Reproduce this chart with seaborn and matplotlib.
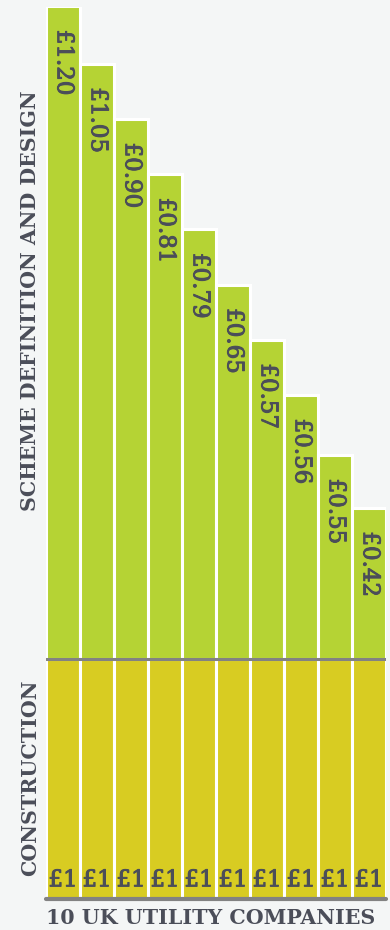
import matplotlib
matplotlib.use("Agg")
import matplotlib.pyplot as plt
import matplotlib.patheffects as pe
import seaborn as sns
import pandas as pd

# ---- data ----
companies = [f"C{i}" for i in range(1, 11)]
scheme_values = [1.20, 1.05, 0.90, 0.81, 0.79, 0.65, 0.57, 0.56, 0.55, 0.42]
scheme_labels = ["£1.20", "£1.05", "£0.90", "£0.81", "£0.79", "£0.65", "£0.57", "£0.56", "£0.55", "£0.42"]
# drawn heights of the green blocks (staircase, in units of the £1 construction block)
scheme_bar_heights = [2.72, 2.48, 2.25, 2.02, 1.79, 1.56, 1.33, 1.10, 0.85, 0.63]
construction_values = [1, 1, 1, 1, 1, 1, 1, 1, 1, 1]
construction_labels = ["£1"] * 10

df = pd.DataFrame({
    "company": companies,
    "construction": construction_values,
    "total": [c + s for c, s in zip(construction_values, scheme_bar_heights)],
})

BG = "#f4f6f6"
GREEN = "#b5d334"
YELLOW = "#d8cc22"
TEXT = "#4b4e59"
LINE = "#828282"

sns.set_theme(style="white")
plt.rcParams["font.family"] = ["DejaVu Serif"]

fig = plt.figure(figsize=(3.9, 9.3), dpi=100, facecolor=BG)
ax = fig.add_axes([46 / 390, 31 / 930, 340 / 390, 892 / 930])
ax.set_facecolor(BG)

sns.barplot(data=df, x="company", y="total", color=GREEN, saturation=1,
            width=1.0, edgecolor="white", linewidth=2.2, ax=ax)
sns.barplot(data=df, x="company", y="construction", color=YELLOW, saturation=1,
            width=1.0, edgecolor="white", linewidth=2.2, ax=ax)

ax.set_xlim(-0.5, 9.5)
ax.set_ylim(0, 892 / 240)
ax.axhline(1, color=LINE, lw=2.2, zorder=5)
ax.axhline(0, color=LINE, lw=3.0, zorder=5, clip_on=False)

thick = [pe.withStroke(linewidth=0.7, foreground=TEXT)]

for i, (lab, tot) in enumerate(zip(scheme_labels, df["total"])):
    ax.annotate(lab, xy=(i, tot), xytext=(0.5, -17), textcoords="offset points",
                rotation=270, ha="center", va="top", fontsize=16.5, color=TEXT,
                zorder=6, annotation_clip=False, path_effects=thick)

for i, lab in enumerate(construction_labels):
    ax.annotate(lab, xy=(i, 0), xytext=(0, 5.5), textcoords="offset points",
                ha="center", va="bottom", fontsize=16.5, color=TEXT, zorder=6,
                annotation_clip=False, path_effects=thick)

for s in ax.spines.values():
    s.set_visible(False)
ax.set_xticks([])
ax.set_yticks([])
ax.set_xlabel("")
ax.set_ylabel("")

fig.text(30 / 390, 1 - 301 / 930, "SCHEME DEFINITION AND DESIGN", rotation=90,
         ha="center", va="center", fontsize=14.8, fontweight="bold", color=TEXT)
fig.text(30 / 390, 1 - 778 / 930, "CONSTRUCTION", rotation=90,
         ha="center", va="center", fontsize=14.8, fontweight="bold", color=TEXT)
fig.text(211 / 390, 1 - 918 / 930, "10 UK UTILITY COMPANIES",
         ha="center", va="center", fontsize=14.8, fontweight="bold", color=TEXT)

fig.savefig("out.png", dpi=100, facecolor=BG)
